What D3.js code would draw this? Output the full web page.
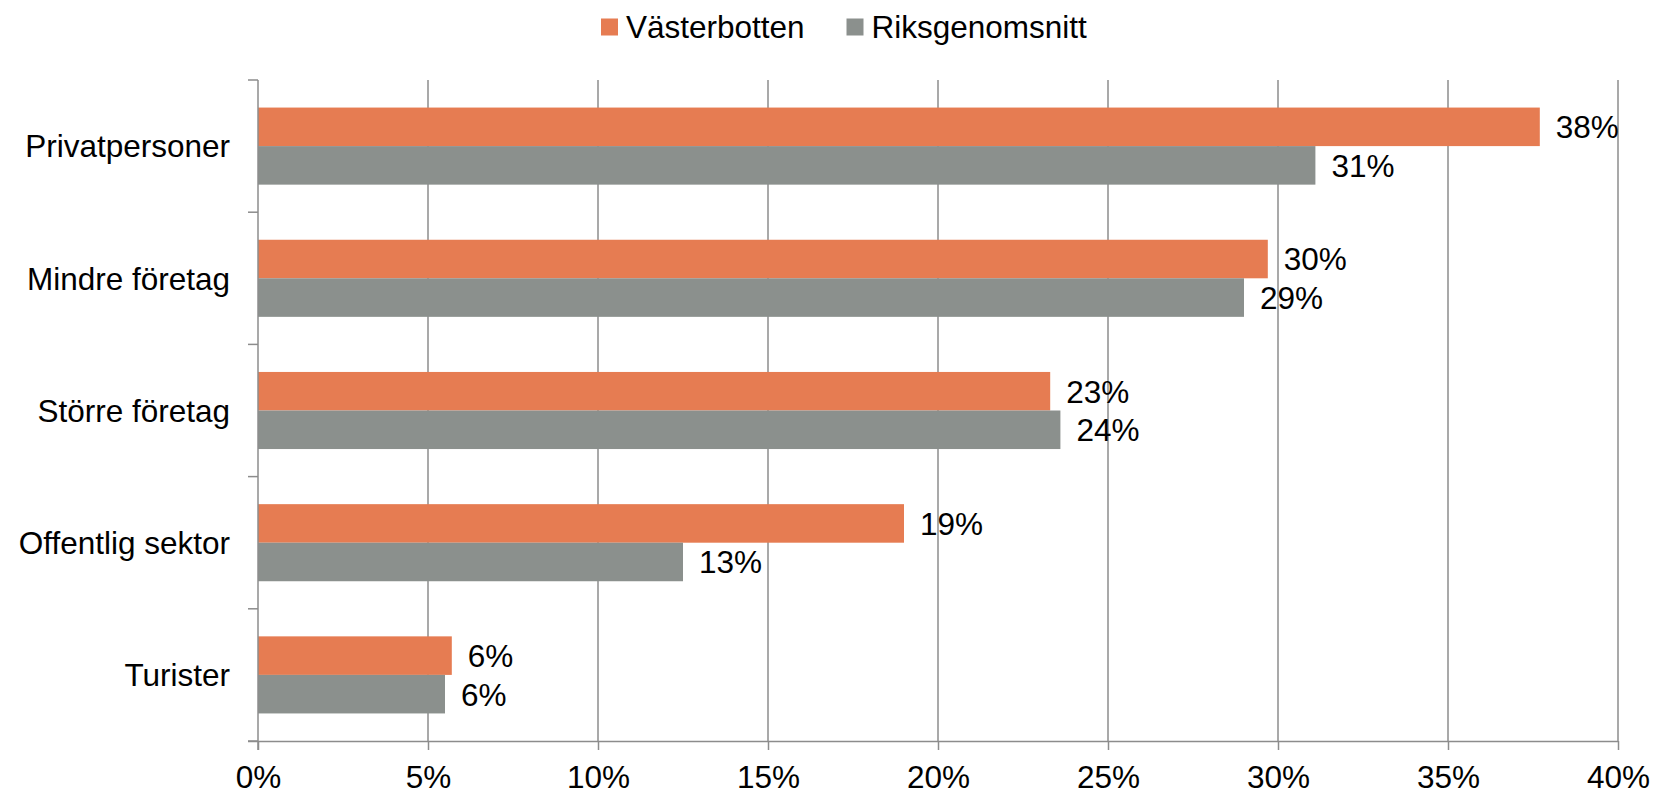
<!DOCTYPE html>
<html>
<head>
<meta charset="utf-8">
<script src="https://cdn.jsdelivr.net/npm/d3@7"></script>
<style>
  html, body { margin: 0; padding: 0; background: #fff; }
  svg { display: block; font-family: "Liberation Sans", Arial, sans-serif; }
</style>
</head>
<body>
<svg id="chart" width="1667" height="792"></svg>
<script>
// Data
const categories = ['Privatpersoner', 'Mindre företag', 'Större företag', 'Offentlig sektor', 'Turister'];
const seriesNames = ['Västerbotten', 'Riksgenomsnitt'];
const vasterbotten = [37.7, 29.7, 23.3, 19.0, 5.7];
const riksgenomsnitt = [31.1, 29.0, 23.6, 12.5, 5.5];
const xTicks = [0, 5, 10, 15, 20, 25, 30, 35, 40];
const colors = ['#E67C52', '#8B908D'];

const svg = d3.select('#chart');
const margin = { left: 258, right: 49, top: 80, bottom: 51 };
const width = 1667, height = 792;
const fontSize = 31.5;

const x = d3.scaleLinear().domain([0, 40]).range([margin.left, width - margin.right]);
const y = d3.scaleBand().domain(categories).range([margin.top, height - margin.bottom]);
const inner = d3.scaleBand().domain(seriesNames)
  .range([0, y.bandwidth()]).paddingOuter(0.715).paddingInner(0);

const gridColor = '#8c8c8c';

// Vertical gridlines
svg.append('g')
  .selectAll('line')
  .data(xTicks.slice(1))
  .join('line')
  .attr('x1', d => x(d)).attr('x2', d => x(d))
  .attr('y1', margin.top).attr('y2', height - margin.bottom)
  .attr('stroke', gridColor).attr('stroke-width', 1.5);

// Bars
const rows = categories.map((c, i) => ({ cat: c, values: [vasterbotten[i], riksgenomsnitt[i]] }));
const groups = svg.append('g').selectAll('g')
  .data(rows)
  .join('g')
  .attr('transform', d => `translate(0,${y(d.cat)})`);

groups.selectAll('rect')
  .data(d => d.values.map((v, j) => ({ name: seriesNames[j], v, j })))
  .join('rect')
  .attr('x', x(0))
  .attr('y', d => inner(d.name))
  .attr('width', d => x(d.v) - x(0))
  .attr('height', inner.bandwidth())
  .attr('fill', d => colors[d.j]);

groups.selectAll('text')
  .data(d => d.values.map((v, j) => ({ name: seriesNames[j], v, j })))
  .join('text')
  .attr('x', d => x(d.v) + 16)
  .attr('y', d => inner(d.name) + inner.bandwidth() / 2)
  .attr('dy', '0.36em')
  .attr('font-size', fontSize)
  .attr('fill', '#000')
  .text(d => Math.round(d.v) + '%');

// X axis
const xAxis = svg.append('g')
  .attr('transform', `translate(0,${height - margin.bottom})`)
  .call(d3.axisBottom(x).tickValues(xTicks).tickFormat(d => d + '%').tickSizeInner(9).tickSizeOuter(0).tickPadding(16));
xAxis.select('.domain').attr('stroke', gridColor).attr('stroke-width', 1.5)
  .attr('d', `M${x(0) - 10},0.5H${x(40)}`);
xAxis.selectAll('.tick line').attr('stroke', gridColor).attr('stroke-width', 1.5);
xAxis.selectAll('.tick text').attr('font-size', fontSize).attr('fill', '#000')
  .attr('font-family', '"Liberation Sans", Arial, sans-serif');

// Y axis
const yBounds = categories.map(c => y(c)).concat([height - margin.bottom]);
const yAxis = svg.append('g');
yAxis.append('line')
  .attr('x1', x(0)).attr('x2', x(0))
  .attr('y1', margin.top).attr('y2', height - margin.bottom + 9)
  .attr('stroke', gridColor).attr('stroke-width', 1.5);
yAxis.selectAll('line.tk')
  .data(yBounds)
  .join('line')
  .attr('class', 'tk')
  .attr('x1', x(0) - 10).attr('x2', x(0))
  .attr('y1', d => d).attr('y2', d => d)
  .attr('stroke', gridColor).attr('stroke-width', 1.5);
yAxis.selectAll('text')
  .data(categories)
  .join('text')
  .attr('x', x(0) - 28)
  .attr('y', d => y(d) + y.bandwidth() / 2)
  .attr('dy', '0.36em')
  .attr('text-anchor', 'end')
  .attr('font-size', fontSize)
  .attr('fill', '#000')
  .text(d => d);

// Legend
const legendItems = [
  { name: seriesNames[0], color: colors[0], x: 601 },
  { name: seriesNames[1], color: colors[1], x: 846.5 }
];
const legend = svg.append('g').selectAll('g')
  .data(legendItems)
  .join('g')
  .attr('transform', d => `translate(${d.x},18.5)`);
legend.append('rect')
  .attr('width', 17).attr('height', 17)
  .attr('fill', d => d.color);
legend.append('text')
  .attr('x', 25).attr('y', 19)
  .attr('font-size', fontSize)
  .attr('fill', '#000')
  .text(d => d.name);
</script>
</body>
</html>
